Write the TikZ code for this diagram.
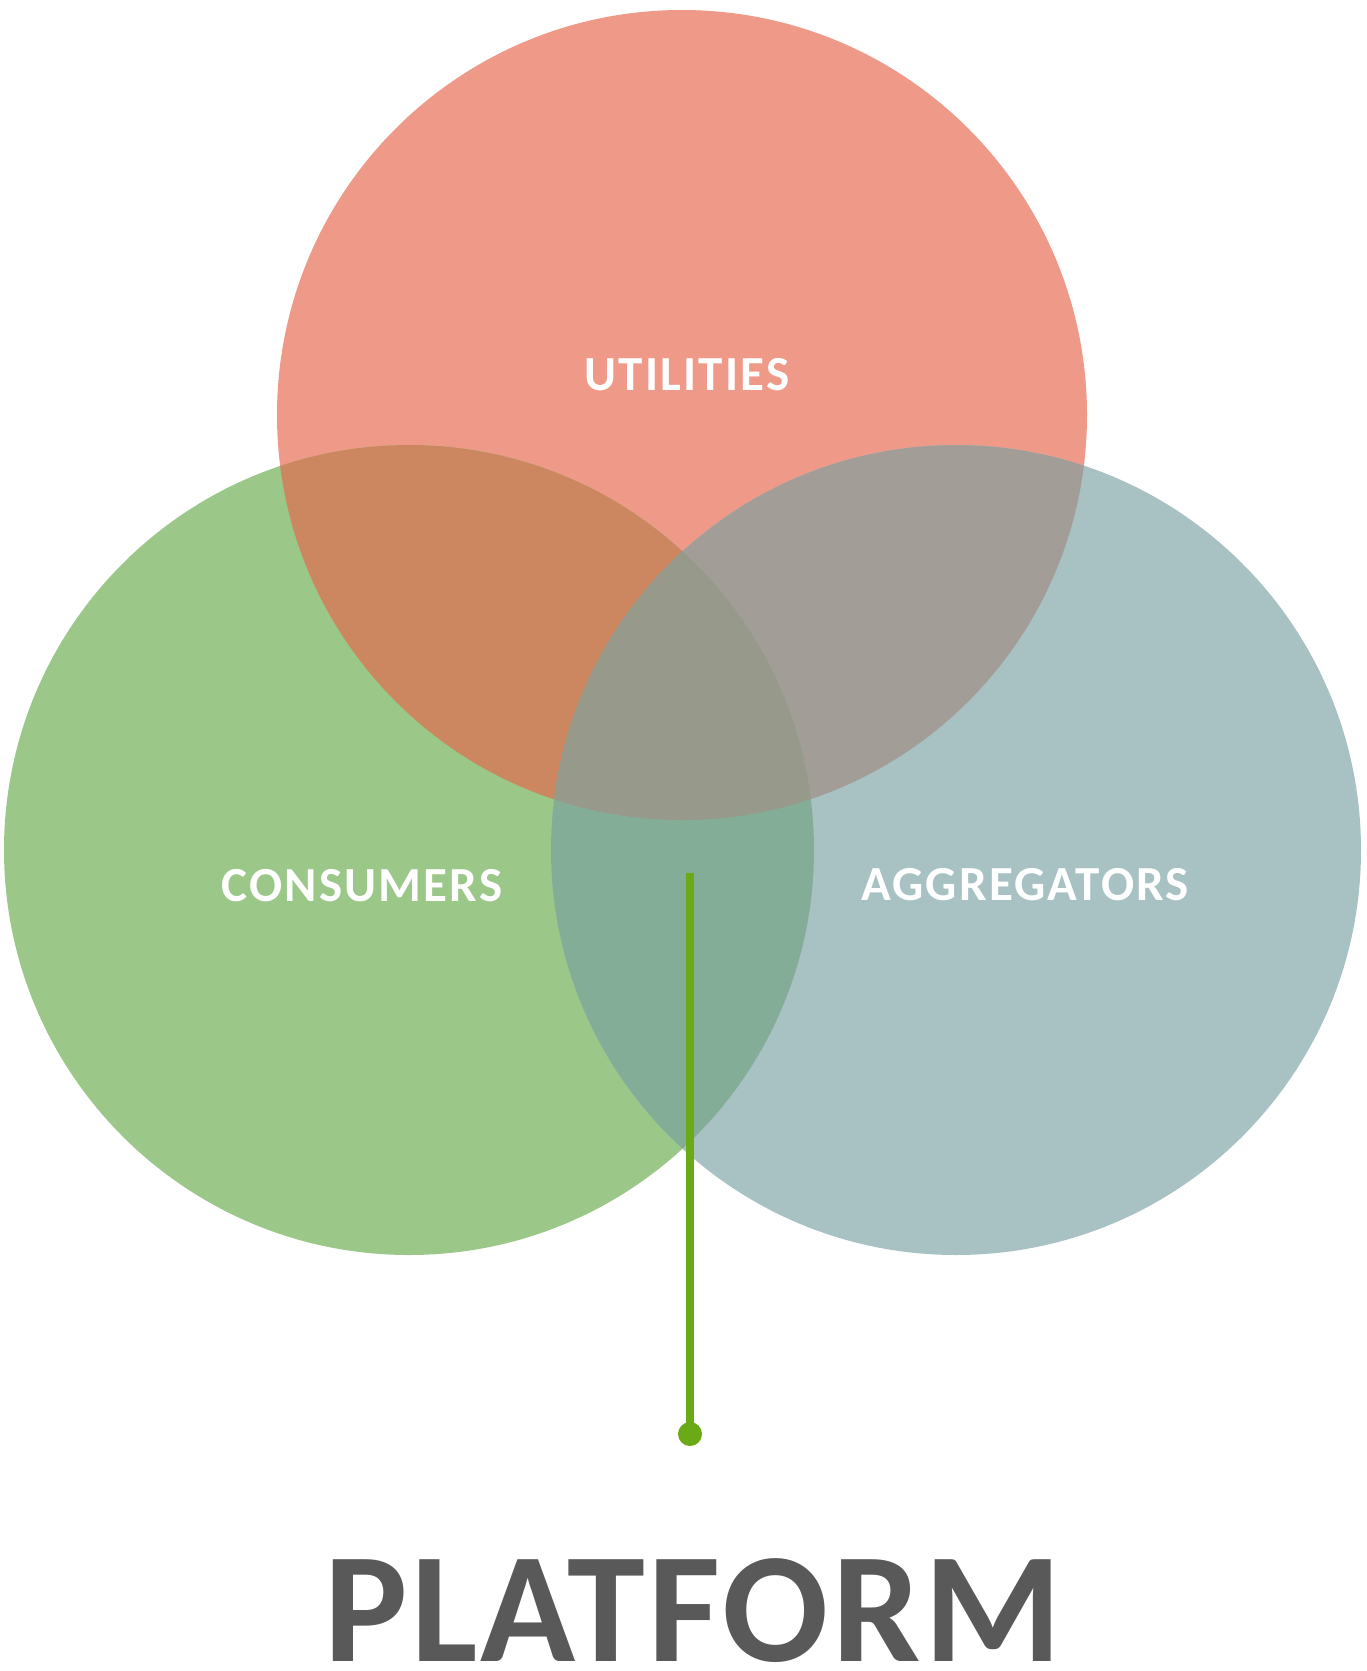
\documentclass[tikz,border=0pt]{standalone}
\usepackage{fontspec}
\setmainfont{Carlito}
\newfontfamily\labelfont[LetterSpace=4.5]{Carlito}
\newfontfamily\titlefont[LetterSpace=2.2]{Carlito}
\definecolor{cRed}{HTML}{EF9A89}
\definecolor{cGreen}{HTML}{9BC789}
\definecolor{cBlue}{HTML}{A8C1C2}
\definecolor{cRG}{HTML}{CC8761}
\definecolor{cRB}{HTML}{A29E97}
\definecolor{cGB}{HTML}{84AD97}
\definecolor{cRGB}{HTML}{979A8A}
\definecolor{cLine}{HTML}{6AAA16}
\definecolor{cText}{HTML}{595959}
\begin{document}
\begin{tikzpicture}[x=1pt,y=-1pt,
  setlabel/.style={text=white,font=\labelfont\bfseries\fontsize{49}{49}\selectfont,inner sep=0pt,anchor=base},
  bigtitle/.style={text=cText,font=\titlefont\bfseries\fontsize{157}{157}\selectfont,inner sep=0pt,anchor=base},
  stem/.style={draw=cLine,line width=8pt},
  stemdot/.style={circle,fill=cLine,minimum size=24pt,inner sep=0pt}]
\useasboundingbox (0,0) rectangle (1367,1671);
\def\cU{(682,415) circle (405pt)}
\def\cC{(409,850) circle (405pt)}
\def\cA{(956,850) circle (405pt)}
\fill[cRed] \cU;
\fill[cGreen] \cC;
\fill[cBlue] \cA;
\begin{scope}\clip \cU; \fill[cRG] \cC; \end{scope}
\begin{scope}\clip \cU; \fill[cRB] \cA; \end{scope}
\begin{scope}\clip \cC; \fill[cGB] \cA; \end{scope}
\begin{scope}\clip \cU; \clip \cC; \fill[cRGB] \cA; \end{scope}
\node[setlabel] (util) at (687,390) {UTILITIES};
\node[setlabel] (cons) at (362,901) {CONSUMERS};
\node[setlabel] (aggr) at (1025,900) {AGGREGATORS};
\coordinate (stemtop) at (690,873);
\node[stemdot] (dot) at (690,1434) {};
\draw[stem] (stemtop) -- (dot.center);
\node[bigtitle] (plat) at (693,1661) {PLATFORM};
\end{tikzpicture}
\end{document}
